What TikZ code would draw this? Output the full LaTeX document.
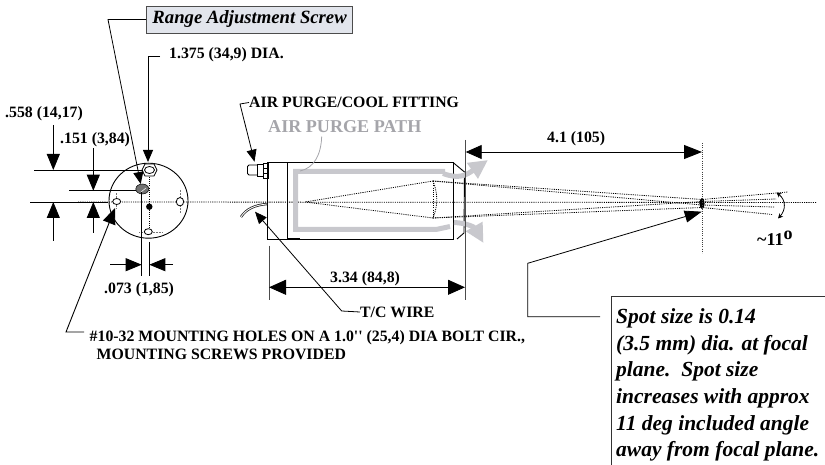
\documentclass[tikz,border=0pt]{standalone}
\usepackage{fontspec}
\setmainfont{Liberation Serif}
\usetikzlibrary{arrows.meta}
\tikzset{
    dimtext/.style={font=\fontsize{15.8}{18}\bfseries\selectfont, inner sep=0pt, anchor=west},
    notetext/.style={font=\fontsize{21.5}{26.7}\bfseries\itshape\selectfont, inner sep=0pt, anchor=west},
    bigtip/.style={-{Triangle[length=16pt,width=13pt]}, line width=0.9pt},
    midtip/.style={-{Triangle[length=12pt,width=10pt]}, line width=0.8pt},
    purge/.style={color={rgb,255:red,200; green,200; blue,205}, line width=5pt},
    purgetip/.style={purge, -{Triangle[length=19pt,width=18pt]}},
    ray/.style={dash pattern=on 1.1pt off 1.1pt, line width=0.8pt}
}
\begin{document}
\begin{tikzpicture}[x=1pt,y=-1pt]
        \useasboundingbox (0,0) rectangle (825,465);

        \node [notetext, font=\fontsize{18.7}{22}\bfseries\itshape\selectfont, draw=black!70, fill={rgb,255:red,226; green,229; blue,236}, inner xsep=6pt, minimum height=27pt, line width=0.9pt] (rangebox) at (146,19.5) {Range Adjustment Screw};
        \node [dimtext] (dialabel) at (169,55) {1.375 (34,9) DIA.};
        \node [dimtext] (holdlabel) at (5,114) {.558 (14,17)};
        \node [dimtext] (offsetlabel) at (60,140) {.151 (3,84)};
        \node [dimtext] (slotlabel) at (104,290) {.073 (1,85)};
        \node [dimtext] (fittinglabel) at (249,102.5) {AIR PURGE/COOL FITTING};
        \node [dimtext, font=\fontsize{18.1}{22}\bfseries\selectfont, color={rgb,255:red,165; green,165; blue,170}] (pathlabel) at (268,127) {AIR PURGE PATH};
        \node [dimtext] (focuslabel) at (547,139) {4.1 (105)};
        \node [dimtext] (bodylabel) at (330,279) {3.34 (84,8)};
        \node [dimtext] (wirelabel) at (360,312) {T/C WIRE};
        \node [dimtext, font=\fontsize{18}{22}\bfseries\selectfont] (anglelabel) at (757,238) {\textasciitilde 11\raisebox{6pt}{o}};
        \node [dimtext, align=left] (holelabel) at (89.5,345) {\#10-32 MOUNTING HOLES ON A 1.0\textquotesingle\textquotesingle\ (25,4) DIA BOLT CIR.,\\\hspace*{7pt}MOUNTING SCREWS PROVIDED};
        \node [notetext, align=left] (spotlabel) at (616,385) {Spot size is 0.14\\(3.5 mm) dia. at focal\\plane.\ \ Spot size\\increases with approx\\11 deg included angle\\away from focal plane.};

        \coordinate (axisleft) at (78,202);
        \coordinate (axisright) at (816,202.5);
        \draw [ray] (axisleft) -- (axisright);

        \draw [line width=0.9pt] (148.5,200.7) ellipse [x radius=39.5, y radius=37.5];
        \draw [ray] (149.3,170) -- (149.3,232);
        \draw [densely dotted, line width=0.5pt, color=black!55] (139,232) -- (162,232);
        \draw [densely dotted, line width=0.5pt, color=black!55] (180,190) -- (180,213);
        \draw [densely dotted, line width=0.5pt, color=black!55] (116.7,193) -- (116.7,209);
        \draw [fill=white, line width=0.8pt] (116.7,201.5) ellipse [x radius=4, y radius=3];
        \draw [fill=white, line width=0.8pt] (180,201.7) ellipse [x radius=3.7, y radius=4.2];
        \draw [fill=white, line width=0.8pt] (148.3,231.7) ellipse [x radius=4, y radius=3];
        \fill (149.3,206.7) ellipse [x radius=3.2, y radius=3.2];
        \draw [fill=white, line width=0.8pt] (142,170) -- (145,164) -- (154,164) -- (157,170) -- (154,176) -- (145,176) -- cycle;
        \draw [line width=0.8pt] (149.5,170) ellipse [x radius=5, y radius=3.5];
        \draw [fill=black!55, line width=0.5pt] (142.3,189) ellipse [x radius=6.5, y radius=5];
        \draw [color=white, line width=0.5pt] (141,192) -- (146,188);

        \coordinate (hexline) at (34,170);
        \coordinate (hexlineend) at (143,170);
        \coordinate (screwline) at (69,190.7);
        \coordinate (screwlineend) at (136,190.7);
        \coordinate (axisline) at (30,202);
        \coordinate (axislineend) at (108,202);
        \draw [line width=0.9pt] (hexline) -- (hexlineend);
        \draw [line width=0.9pt] (screwline) -- (screwlineend);
        \draw [line width=0.9pt] (axisline) -- (axislineend);

        \coordinate (holdtop) at (53.3,125);
        \coordinate (holdbottom) at (53.3,241);
        \coordinate (offsettop) at (93.3,148);
        \coordinate (offsetbottom) at (93.3,233);
        \draw [bigtip] (holdtop) -- (53.3,170);
        \draw [bigtip] (holdbottom) -- (53.3,202);
        \draw [bigtip] (offsettop) -- (93.3,190.7);
        \draw [bigtip] (offsetbottom) -- (93.3,202);

        \coordinate (diaknee) at (148,56);
        \coordinate (diatip) at (148,162);
        \draw [midtip] (dialabel.west) ++(-9,1) -- (diaknee) -- (diatip);

        \coordinate (rangeknee) at (108,19.5);
        \coordinate (rangetip) at (140.7,184);
        \draw [midtip] (rangebox.west) -- (rangeknee) -- (rangetip);

        \coordinate (slotleft) at (141.7,192);
        \coordinate (slotleftend) at (141.7,276);
        \coordinate (slotright) at (149.3,242);
        \coordinate (slotrightend) at (149.3,276);
        \draw [line width=0.9pt] (slotleft) -- (slotleftend);
        \draw [line width=0.9pt] (slotright) -- (slotrightend);
        \coordinate (slotarrowleft) at (110,264.7);
        \coordinate (slotarrowright) at (173,264.7);
        \draw [bigtip] (slotarrowleft) -- (141.7,264.7);
        \draw [bigtip] (slotarrowright) -- (149.3,264.7);

        \coordinate (holeknee) at (66,332);
        \coordinate (holetip) at (115,208);
        \draw [bigtip] (84,332) -- (holeknee) -- (holetip);

        \draw [line width=0.9pt] (267.3,162.7) rectangle (453.3,239);
        \draw [line width=0.9pt] (287.3,162.7) -- (287.3,239);
        \draw [line width=1.5pt] (287.3,162.7) -- (300,162.7);
        \draw [line width=1.5pt] (287.3,239) -- (300,239);
        \draw [line width=0.9pt] (453.3,162.7) -- (464.5,172) -- (464,233) -- (457,239);
        \draw [line width=0.9pt, rounded corners=1.5pt] (257,165) -- (247.5,165) -- (247.5,175) -- (257,175);
        \draw [line width=0.9pt] (257,164) rectangle (263,176.5);
        \draw [line width=0.9pt] (263,163) rectangle (268,178);
        \draw [line width=0.7pt] (263,168) -- (268,168);
        \draw [line width=0.7pt] (263,173) -- (268,173);

        \draw [purge] (445,171.5) -- (295.5,171.5) -- (295.5,229.3) -- (437,229.3) -- (450,226.5);
        \draw [purgetip] (443,173.5) .. controls (458,179) and (465,176) .. (488,160);
        \draw [purgetip] (454,222.5) .. controls (468,223) and (475,228) .. (483.5,243);
        \draw [color={rgb,255:red,165; green,165; blue,170}, line width=0.8pt] (321.7,136.5) .. controls (321,155) and (314,168) .. (300,171);

        \coordinate (fittingknee) at (240,104);
        \coordinate (fittingtip) at (254.5,161.7);
        \draw [midtip] (fittinglabel.west) -- (fittingknee) -- (fittingtip);

        \draw [line width=2.4pt, color=black!85] (267,204) .. controls (255,205) and (246,209) .. (241,217);
        \draw [color=white, line width=0.8pt] (267,204) .. controls (255,205) and (246,209) .. (241,217);

        \coordinate (wireknee) at (341.7,311);
        \coordinate (wiretip) at (255,211.7);
        \draw [midtip] (wirelabel.west) -- (wireknee) -- (wiretip);

        \coordinate (bodyleft) at (269,245.7);
        \coordinate (bodyleftend) at (269,300);
        \coordinate (bodyright) at (465,167);
        \coordinate (bodyrightend) at (465,300);
        \draw [line width=0.9pt, color=black!70] (bodyleft) -- (bodyleftend);
        \draw [line width=0.9pt, color=black!70] (bodyright) -- (bodyrightend);
        \draw [{Triangle[length=17pt,width=15pt]}-{Triangle[length=17pt,width=15pt]}, line width=0.9pt] (bodyleftend |- 0,287.3) -- (bodyright |- 0,287.3);

        \coordinate (lensapex) at (305,202);
        \coordinate (lenstop) at (433,181);
        \coordinate (lensbottom) at (433,218);
        \coordinate (spotcentre) at (702,203.5);
        \draw [ray] (lenstop) -- (lensapex) -- (lensbottom);
        \draw [ray] (lenstop) -- (lensbottom);
        \draw [ray] (lenstop) .. controls (438,193) and (438,206) .. (lensbottom);
        \draw [ray] (lenstop) -- (702,199.5) -- (788,192);
        \draw [ray] (lenstop) -- (702,205) -- (774,207);
        \draw [ray] (lensbottom) -- (702,207.5) -- (772,214.5);
        \draw [ray] (lensbottom) -- (702,201.5) -- (776,199);
        \fill (spotcentre) ellipse [x radius=2.6, y radius=5.5];

        \coordinate (focaltop) at (702.3,143);
        \coordinate (focalbottom) at (702.3,253);
        \draw [dash pattern=on 1.1pt off 1.1pt, line width=0.7pt, color=black!75] (focaltop) -- (focalbottom);

        \coordinate (focusleft) at (465.7,140);
        \coordinate (focusleftend) at (465.7,167);
        \draw [line width=0.9pt, color=black!70] (focusleft) -- (focusleftend);
        \draw [{Triangle[length=16pt,width=14pt]}-{Triangle[length=18pt,width=14pt]}, line width=0.9pt] (465.7,152) -- (702,152);

        \draw [{Stealth[length=5pt,width=5pt]}-{Stealth[length=5pt,width=5pt]}, line width=0.8pt] (776.5,192.5) .. controls (786,200) and (786,210) .. (778,218.5);

        \coordinate (spotknee) at (527.7,263.3);
        \coordinate (spotstart) at (600,316.7);
        \coordinate (spottip) at (701.7,211.7);
        \draw [midtip, {-Triangle[length=17pt,width=12pt]}] (spotstart) -- (527.7,316.7) -- (spotknee) -- (spottip);

        \draw [line width=0.9pt, color=black!80] (611.7,465) -- (611.7,296) -- (824.5,296);
    \end{tikzpicture}
\end{document}
